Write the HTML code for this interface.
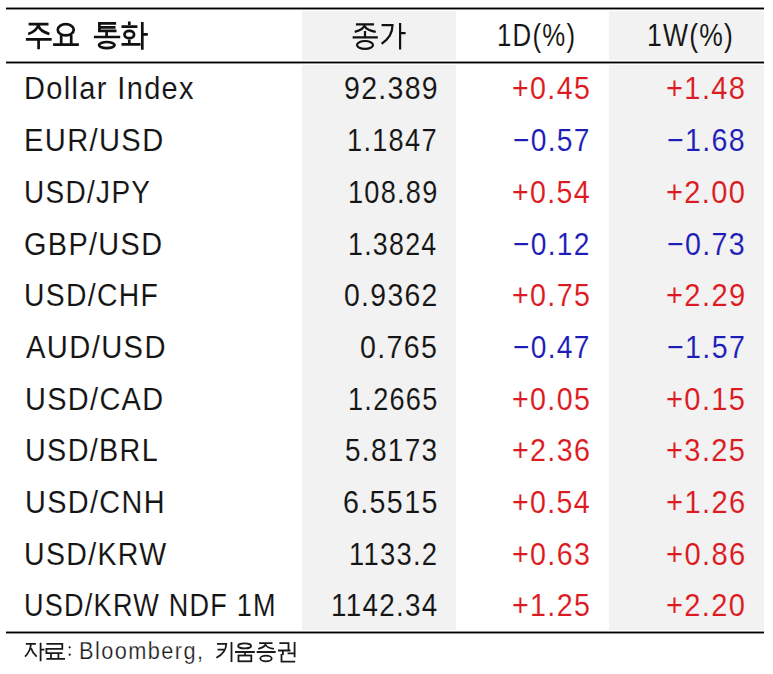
<!DOCTYPE html>
<html><head><meta charset="utf-8">
<style>
html,body{margin:0;padding:0;background:#fff;width:773px;height:674px;overflow:hidden;position:relative;}
body{font-family:"Liberation Sans",sans-serif;color:#141414;}
.g{position:absolute;background:#f2f2f2;}
.ln{position:absolute;left:6px;width:758px;height:1px;background:#000;box-shadow:0 -1px 0 #909090,0 1px 0 #909090;}
.t{position:absolute;font-size:32px;line-height:32px;white-space:nowrap;transform-origin:0 0;letter-spacing:1.5px;}
</style></head><body>
<div class="g" style="left:302px;top:11px;width:154px;height:49px;"></div>
<div class="g" style="left:609px;top:11px;width:155px;height:49px;"></div>
<div class="g" style="left:302px;top:65px;width:154px;height:565px;"></div>
<div class="g" style="left:609px;top:65px;width:155px;height:565px;"></div>
<div class="ln" style="top:8px;"></div>
<div class="ln" style="top:62px;"></div>
<div class="ln" style="top:632px;"></div>
<div class="t" style="left:496.57px;top:19.40px;color:#141414;-webkit-text-stroke:0.1px #fff;transform:scaleX(0.8066)">1D(%)</div>
<div class="t" style="left:646.67px;top:19.40px;color:#141414;-webkit-text-stroke:0.1px #f2f2f2;transform:scaleX(0.8280)">1W(%)</div>
<div class="t" style="left:24.06px;top:72.40px;color:#141414;-webkit-text-stroke:0.1px #fff;transform:scaleX(0.9056)">Dollar Index</div>
<div class="t" style="left:343.55px;top:72.40px;color:#141414;-webkit-text-stroke:0.1px #f2f2f2;transform:scaleX(0.8885)">92.389</div>
<div class="t" style="left:512.37px;top:72.40px;color:#dc1a22;-webkit-text-stroke:0.1px #fff;transform:scaleX(0.8957)">+0.45</div>
<div class="t" style="left:665.96px;top:72.40px;color:#dc1a22;-webkit-text-stroke:0.1px #f2f2f2;transform:scaleX(0.9089)">+1.48</div>
<div class="t" style="left:24.03px;top:124.10px;color:#141414;-webkit-text-stroke:0.1px #fff;transform:scaleX(0.9094)">EUR/USD</div>
<div class="t" style="left:347.26px;top:124.10px;color:#141414;-webkit-text-stroke:0.1px #f2f2f2;transform:scaleX(0.8493)">1.1847</div>
<div class="t" style="left:513.38px;top:124.10px;color:#1e1cb8;-webkit-text-stroke:0.1px #fff;transform:scaleX(0.8795)">−0.57</div>
<div class="t" style="left:666.90px;top:124.10px;color:#1e1cb8;-webkit-text-stroke:0.1px #f2f2f2;transform:scaleX(0.8935)">−1.68</div>
<div class="t" style="left:24.16px;top:175.80px;color:#141414;-webkit-text-stroke:0.1px #fff;transform:scaleX(0.8743)">USD/JPY</div>
<div class="t" style="left:348.12px;top:175.80px;color:#141414;-webkit-text-stroke:0.1px #f2f2f2;transform:scaleX(0.8473)">108.89</div>
<div class="t" style="left:512.30px;top:175.80px;color:#dc1a22;-webkit-text-stroke:0.1px #fff;transform:scaleX(0.8935)">+0.54</div>
<div class="t" style="left:665.96px;top:175.80px;color:#dc1a22;-webkit-text-stroke:0.1px #f2f2f2;transform:scaleX(0.9081)">+2.00</div>
<div class="t" style="left:24.13px;top:227.50px;color:#141414;-webkit-text-stroke:0.1px #fff;transform:scaleX(0.9018)">GBP/USD</div>
<div class="t" style="left:348.20px;top:227.50px;color:#141414;-webkit-text-stroke:0.1px #f2f2f2;transform:scaleX(0.8368)">1.3824</div>
<div class="t" style="left:513.38px;top:227.50px;color:#1e1cb8;-webkit-text-stroke:0.1px #fff;transform:scaleX(0.8795)">−0.12</div>
<div class="t" style="left:666.90px;top:227.50px;color:#1e1cb8;-webkit-text-stroke:0.1px #f2f2f2;transform:scaleX(0.8934)">−0.73</div>
<div class="t" style="left:24.14px;top:279.20px;color:#141414;-webkit-text-stroke:0.1px #fff;transform:scaleX(0.8843)">USD/CHF</div>
<div class="t" style="left:344.02px;top:279.20px;color:#141414;-webkit-text-stroke:0.1px #f2f2f2;transform:scaleX(0.8858)">0.9362</div>
<div class="t" style="left:512.37px;top:279.20px;color:#dc1a22;-webkit-text-stroke:0.1px #fff;transform:scaleX(0.8957)">+0.75</div>
<div class="t" style="left:665.96px;top:279.20px;color:#dc1a22;-webkit-text-stroke:0.1px #f2f2f2;transform:scaleX(0.9099)">+2.29</div>
<div class="t" style="left:25.50px;top:330.90px;color:#141414;-webkit-text-stroke:0.1px #fff;transform:scaleX(0.9115)">AUD/USD</div>
<div class="t" style="left:360.01px;top:330.90px;color:#141414;-webkit-text-stroke:0.1px #f2f2f2;transform:scaleX(0.8931)">0.765</div>
<div class="t" style="left:513.38px;top:330.90px;color:#1e1cb8;-webkit-text-stroke:0.1px #fff;transform:scaleX(0.8795)">−0.47</div>
<div class="t" style="left:666.89px;top:330.90px;color:#1e1cb8;-webkit-text-stroke:0.1px #f2f2f2;transform:scaleX(0.8957)">−1.57</div>
<div class="t" style="left:25.07px;top:382.60px;color:#141414;-webkit-text-stroke:0.1px #fff;transform:scaleX(0.9025)">USD/CAD</div>
<div class="t" style="left:348.13px;top:382.60px;color:#141414;-webkit-text-stroke:0.1px #f2f2f2;transform:scaleX(0.8473)">1.2665</div>
<div class="t" style="left:512.37px;top:382.60px;color:#dc1a22;-webkit-text-stroke:0.1px #fff;transform:scaleX(0.8957)">+0.05</div>
<div class="t" style="left:665.96px;top:382.60px;color:#dc1a22;-webkit-text-stroke:0.1px #f2f2f2;transform:scaleX(0.9089)">+0.15</div>
<div class="t" style="left:25.09px;top:434.30px;color:#141414;-webkit-text-stroke:0.1px #fff;transform:scaleX(0.8986)">USD/BRL</div>
<div class="t" style="left:344.86px;top:434.30px;color:#141414;-webkit-text-stroke:0.1px #f2f2f2;transform:scaleX(0.8743)">5.8173</div>
<div class="t" style="left:512.36px;top:434.30px;color:#dc1a22;-webkit-text-stroke:0.1px #fff;transform:scaleX(0.8957)">+2.36</div>
<div class="t" style="left:665.96px;top:434.30px;color:#dc1a22;-webkit-text-stroke:0.1px #f2f2f2;transform:scaleX(0.9089)">+3.25</div>
<div class="t" style="left:25.07px;top:486.00px;color:#141414;-webkit-text-stroke:0.1px #fff;transform:scaleX(0.9015)">USD/CNH</div>
<div class="t" style="left:343.00px;top:486.00px;color:#141414;-webkit-text-stroke:0.1px #f2f2f2;transform:scaleX(0.8956)">6.5515</div>
<div class="t" style="left:512.30px;top:486.00px;color:#dc1a22;-webkit-text-stroke:0.1px #fff;transform:scaleX(0.8935)">+0.54</div>
<div class="t" style="left:665.94px;top:486.00px;color:#dc1a22;-webkit-text-stroke:0.1px #f2f2f2;transform:scaleX(0.9107)">+1.26</div>
<div class="t" style="left:24.13px;top:537.70px;color:#141414;-webkit-text-stroke:0.1px #fff;transform:scaleX(0.8905)">USD/KRW</div>
<div class="t" style="left:349.05px;top:537.70px;color:#141414;-webkit-text-stroke:0.1px #f2f2f2;transform:scaleX(0.8553)">1133.2</div>
<div class="t" style="left:512.36px;top:537.70px;color:#dc1a22;-webkit-text-stroke:0.1px #fff;transform:scaleX(0.8957)">+0.63</div>
<div class="t" style="left:665.94px;top:537.70px;color:#dc1a22;-webkit-text-stroke:0.1px #f2f2f2;transform:scaleX(0.9107)">+0.86</div>
<div class="t" style="left:24.24px;top:589.40px;color:#141414;-webkit-text-stroke:0.1px #fff;transform:scaleX(0.8443)">USD/KRW NDF 1M</div>
<div class="t" style="left:331.33px;top:589.40px;color:#141414;-webkit-text-stroke:0.1px #f2f2f2;transform:scaleX(0.8692)">1142.34</div>
<div class="t" style="left:512.37px;top:589.40px;color:#dc1a22;-webkit-text-stroke:0.1px #fff;transform:scaleX(0.8957)">+1.25</div>
<div class="t" style="left:665.96px;top:589.40px;color:#dc1a22;-webkit-text-stroke:0.1px #f2f2f2;transform:scaleX(0.9081)">+2.20</div>
<div class="t" style="left:79.26px;top:640.31px;font-size:23px;line-height:23px;color:#1a1a1a;-webkit-text-stroke:0.25px #fff;transform:scaleX(0.9461)">Bloomberg,</div>
<svg width="773" height="674" style="position:absolute;left:0;top:0" fill="none" stroke-linecap="butt">
<g stroke="#111" stroke-width="2.7">
<path d="M28.6 24.2H48.5M38.5 24.5Q37 31 28.2 34M38.5 26Q40 31 49.4 34M25.9 39.3H51.7M38.6 39.3V49.3"/>
<ellipse cx="65.75" cy="29.8" rx="8" ry="5.6"/>
<path d="M61.2 35V44.7M71.2 35V44.7M53.1 44.7H78.9"/>
<path d="M98 23.45H116.1M99.4 27.3H115.5M98 30.9H116.5M99.4 23.45V30.9M106.6 30.9V37M93.9 37H120.2"/>
<ellipse cx="106.8" cy="45.1" rx="7.8" ry="3.1"/>
<path d="M129.3 21.5V25M121.5 26.6H137.4M129.3 39.5V44.3M121.5 44.3H140.5M142.3 22.1V49.7M142.3 34.3H147.8"/>
<ellipse cx="129.3" cy="34.5" rx="4.8" ry="3.7"/>
</g>
<g stroke="#111" stroke-width="2.2">
<path d="M355.9 24.3H374M365 24.5Q364 29.5 354.7 31.9M365 26.5Q366.5 30 375.7 31.9M365 31V37.3M352.6 37.3H377.8"/>
<ellipse cx="365" cy="44.9" rx="8" ry="3.9"/>
<path d="M381.6 25.1H392.5Q392.5 37 381.6 43.7M400.1 23V49.5M400.1 33.1H405.6"/>
</g>
<g stroke="#1a1a1a" stroke-width="1.8">
<path d="M25.8 643.8H35.9M31 644Q30 652 25 656.6M31 648Q32.5 653 36.7 656.6M40.6 642.7V661.3M40.6 649.6H44.5"/>
<path d="M46.4 643.8H62.3V648.9H46.4V653.1H62.5M51 653.1V658.8M58.4 653.1V658.8M46.4 658.8H65"/>
<path d="M217 643.8H226.3Q226 653 216.4 657.8M217.5 649.6H225.5M231.5 642V661.9"/>
<ellipse cx="244.6" cy="645.9" rx="6.5" ry="2.5"/>
<path d="M235 652H254.8M245 652V655.5"/>
<rect x="238.5" y="655.5" width="12.8" height="5.8"/>
<path d="M259.1 643.2H272.5M265.8 643.5Q265 647.5 258.2 648.8M265.8 645Q267 648 273.9 648.8M256.7 652H275.7"/>
<ellipse cx="266" cy="658.5" rx="5.7" ry="2.85"/>
<path d="M279.4 643.2H288.5V650.5M278 650.5H290.5M282.9 650.5V654.9M287.6 653.4H294.6M294.6 642.1V657.2M281.5 654V661.6H295.2"/>
</g>
<g fill="#1a1a1a"><circle cx="69.7" cy="647.3" r="1.1"/><circle cx="69.7" cy="654.7" r="1.1"/></g>
</svg>
</body></html>
